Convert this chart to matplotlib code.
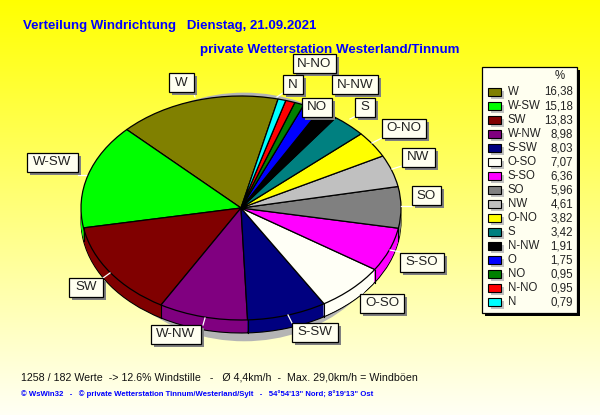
#Wind direction distribution chart (WsWin style pie with fake 3D rim)
import matplotlib
matplotlib.use("Agg")
import matplotlib.pyplot as plt
from matplotlib.patches import Ellipse, Rectangle
import numpy as np

plt.rcParams["font.family"] = ["Liberation Sans", "DejaVu Sans"]

directions = ["W", "W-SW", "SW", "W-NW", "S-SW", "O-SO", "S-SO", "SO", "NW", "O-NO", "S", "N-NW", "O", "NO", "N-NO", "N"]
percent = [16.38, 15.18, 13.83, 8.98, 8.03, 7.07, 6.36, 5.96, 4.61, 3.82, 3.42, 1.91, 1.75, 0.95, 0.95, 0.79]
percent_text = ["16,38", "15,18", "13,83", "8,98", "8,03", "7,07", "6,36", "5,96", "4,61", "3,82", "3,42", "1,91", "1,75", "0,95", "0,95", "0,79"]
colours = ["#808000", "#00ff00", "#800000", "#800080", "#000080", "#fffff6", "#ff00ff", "#808080",
           "#c0c0c0", "#ffff00", "#008080", "#000000", "#0000ff", "#008000", "#ff0000", "#00ffff"]

#label boxes in pixels: name, centre x, centre y, width
label_boxes = [("W", 181, 83, 25), ("W-SW", 52, 162, 51), ("SW", 86, 287, 34), ("W-NW", 176, 334, 50),
               ("S-SW", 315, 332, 46), ("O-SO", 382, 303, 44), ("S-SO", 422, 262, 44), ("SO", 426, 196, 29),
               ("NW", 418, 157, 33), ("O-NO", 404, 128, 44), ("S", 365, 107, 20), ("N-NW", 355, 85, 46),
               ("NO", 317, 107, 30), ("N-NO", 314, 64, 43), ("N", 293, 85, 20)]
#short white lines from the labels to the pie
leaders = [((193, 92), (195, 97)), ((78, 175), (86, 175)), ((103, 278), (110, 273)), ((203, 325), (205, 318)),
           ((292, 323), (288, 315)), ((362, 294), (366, 289)), ((400, 252), (390, 250)), ((412, 206), (401, 206)),
           ((402, 166), (392, 169)), ((382, 138), (372, 143)), ((356, 116), (350, 119)), ((277, 97), (283, 93))]

W, H = 600, 415
CX, CY, RX, RY = 241, 208, 160, 112
DEPTH = 13
START = 76.6


def draw_label(ax, name, x, y, w):
    h = 19
    ax.add_patch(Rectangle((x - w / 2 + 3, y - h / 2 + 3), w, h, fc="#808080", ec="none", zorder=10))
    ax.add_patch(Rectangle((x - w / 2, y - h / 2), w, h, fc="#fffff0", ec="black", lw=0.9, zorder=11))
    ax.text(x, y, name, ha="center", va="center", fontsize=9.6, color="#222222", zorder=12)


fig = plt.figure(figsize=(W / 100, H / 100), dpi=100)

#background gradient, yellow at the top fading to almost white
bg = fig.add_axes([0, 0, 1, 1])
grad = np.ones((H, 1, 3))
grad[:, 0, 2] = np.linspace(0, 0.96, H)
bg.imshow(grad, aspect="auto", extent=(0, W, H, 0))
bg.set_xlim(0, W)
bg.set_ylim(H, 0)
bg.axis("off")

#pie axes, scaled so the unit circle becomes the ellipse on screen
pie_ax = fig.add_axes([0, 0, 1, 1], facecolor="none")
pie_ax.add_patch(Ellipse((0.02, -0.08), 1.85, 2.22, fc="#b4b4b4", ec="none", zorder=0))
d_unit = 1 / RY
for d in range(DEPTH, 0, -1):
    edge = "black" if d == DEPTH else "none"
    pie_ax.pie(percent, colors=colours, startangle=START, counterclock=True, center=(0, -d * d_unit), radius=1,
               wedgeprops={"edgecolor": edge, "linewidth": 0.8})
pie_ax.pie(percent, colors=colours, startangle=START, counterclock=True, center=(0, 0), radius=1,
           wedgeprops={"edgecolor": "black", "linewidth": 0.9})
angles = np.radians(START + np.cumsum(percent) * 3.6)
for a in angles:
    if np.sin(a) < 0:
        pie_ax.plot([np.cos(a), np.cos(a)], [np.sin(a), np.sin(a) - DEPTH * d_unit], color="black", lw=0.8)
pie_ax.set_aspect("auto")
pie_ax.set_xlim(-CX / RX, (W - CX) / RX)
pie_ax.set_ylim(-(H - CY) / RY, CY / RY)
pie_ax.axis("off")

#overlay in pixel coordinates for all the text and boxes
ax = fig.add_axes([0, 0, 1, 1], facecolor="none")
ax.set_xlim(0, W)
ax.set_ylim(H, 0)
ax.axis("off")

ax.text(23, 25.5, "Verteilung Windrichtung   Dienstag, 21.09.2021", color="#0000ff", fontweight="bold",
        fontsize=9.55, va="center")
ax.text(200, 49.5, "private Wetterstation Westerland/Tinnum", color="#0000ff", fontweight="bold",
        fontsize=9.65, va="center")

for a, b in leaders:
    ax.plot([a[0], b[0]], [a[1], b[1]], color="white", lw=0.9, zorder=8)
for name, x, y, w in label_boxes:
    draw_label(ax, name, x, y, w)

#legend
ax.add_patch(Rectangle((485, 70), 95, 246, fc="black", ec="none", zorder=3))
ax.add_patch(Rectangle((482, 67), 95, 246, fc="#fffff0", ec="black", lw=0.9, zorder=4))
ax.text(560, 76, "%", ha="center", va="center", fontsize=8.3, color="#222222", zorder=5)
for i, (name, val, col) in enumerate(zip(directions, percent_text, colours)):
    y = 92 + i * 14
    ax.add_patch(Rectangle((491, y - 1), 13, 8, fc="#c0c0c0", ec="none", zorder=5))
    ax.add_patch(Rectangle((488, y - 4), 13, 8, fc=col, ec="black", lw=0.8, zorder=6))
    ax.text(508, y, name, va="center", fontsize=8.3, color="#222222", zorder=6)
    ax.text(573, y, val, va="center", ha="right", fontsize=8.3, color="#222222", zorder=6)

#footer
ax.text(21, 377, "1258 / 182 Werte  -> 12.6% Windstille   -   Ø 4,4km/h  -  Max. 29,0km/h = Windböen",
        va="center", fontsize=7.65, color="#111111")
ax.text(21, 394, "© WsWin32   -   © private Wetterstation Tinnum/Westerland/Sylt   -   54°54'13\" Nord; 8°19'13\" Ost",
        va="center", fontsize=5.55, fontweight="bold", color="#0000ff")

fig.savefig("out.png", dpi=100)
